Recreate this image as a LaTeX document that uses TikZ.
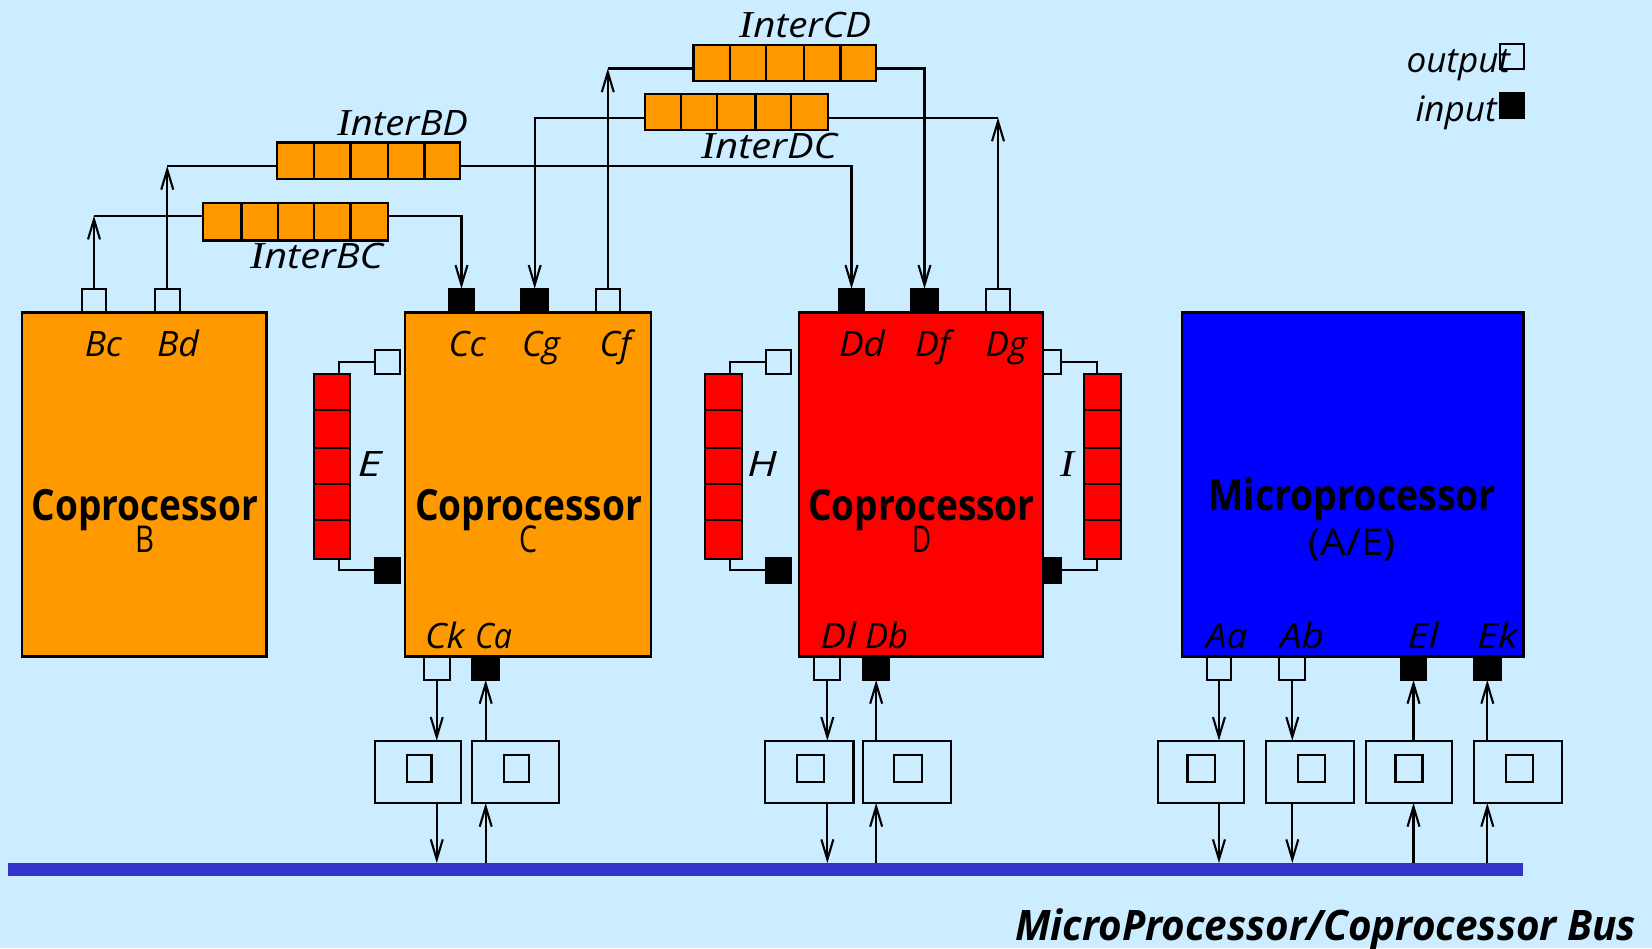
\documentclass[tikz,border=0pt]{standalone}
\usepackage{fontspec}
\usepackage{graphicx}
\setmainfont{Open Sans}
\newfontfamily\barfont{Liberation Serif}
\newcommand\barI{{\barfont\itshape\fontsize{19}{20}\selectfont I}}
\usetikzlibrary{arrows.meta}
\definecolor{bgblue}{HTML}{CCECFF}
\definecolor{orng}{HTML}{FF9900}
\definecolor{busblue}{HTML}{3333CC}
\tikzset{
  chip/.style={rectangle,draw=black,line width=1.1pt,inner sep=0pt,outer sep=0pt},
  outport/.style={chip,line width=1pt},
  inport/.style={chip,line width=1pt,fill=black},
  cellO/.style={chip,fill=orng},
  cellR/.style={chip,fill=red},
  wire/.style={line width=1.05pt,black},
  arrowed/.style={wire,-{Straight Barb[length=10pt,width=6pt,line width=1.05pt]}},
  txt/.style={inner sep=0pt,outer sep=0pt,anchor=base west},
  lbl/.style={txt,font=\fontsize{17.5}{20}\selectfont\itshape},
  hd/.style={txt,font=\fontsize{21.5}{24}\selectfont\bfseries},
  rm/.style={txt,font=\fontsize{18.5}{20}\selectfont},
  tit/.style={txt,font=\fontsize{21}{24}\selectfont\bfseries\itshape},
}
\newcommand\bx[6]{\node[#6,minimum width={(#4-#2)*0.5pt},minimum height={(#5-#3)*0.5pt}] (#1) at ({(#2+#4)/2},{(#3+#5)/2}) {};}
\newcommand\lab[6]{\pgfmathsetlengthmacro\labw{(#3-#2)*0.5}\node[#5] (#1) at (#2,#4) {\resizebox{\labw}{\height}{#6}};}
\newcommand\hq[9]{%
  \bx{#1a}{#2}{#8}{#3}{#9}{cellO}\bx{#1b}{#3}{#8}{#4}{#9}{cellO}\bx{#1c}{#4}{#8}{#5}{#9}{cellO}\bx{#1d}{#5}{#8}{#6}{#9}{cellO}\bx{#1e}{#6}{#8}{#7}{#9}{cellO}}
\newcommand\vq[3]{%
  \bx{#1a}{#2}{374}{#3}{410.3}{cellR}\bx{#1b}{#2}{410.3}{#3}{448.3}{cellR}\bx{#1c}{#2}{448.3}{#3}{484.3}{cellR}\bx{#1d}{#2}{484.3}{#3}{520.3}{cellR}\bx{#1e}{#2}{520.3}{#3}{558.7}{cellR}}
\newcommand\tbox[5]{\bx{#1}{#2}{740.7}{#3}{803}{chip}\bx{#1i}{#4}{755}{#5}{782}{chip}}
\begin{document}
\begin{tikzpicture}[x=0.5pt,y=-0.5pt]
\fill[bgblue] (0,0) rectangle (1652,948);
\useasboundingbox (0,0) rectangle (1652,948);
% main blocks
\bx{B}{22}{312.5}{266.5}{656.4}{chip,fill=orng}
\bx{C}{405}{312.5}{651}{656.4}{chip,fill=orng}
\bx{D}{799}{312.5}{1043}{656.4}{chip,fill=red}
\bx{M}{1181.6}{312.5}{1523.5}{656.4}{chip,fill=blue}
% top ports
\bx{Bc}{82}{288.7}{106}{312.5}{outport}
\bx{Bd}{154.5}{288.7}{180}{312.5}{outport}
\bx{Cc}{449}{288.7}{474}{312.5}{inport}
\bx{Cg}{521.4}{288.7}{548}{312.5}{inport}
\bx{Cf}{596}{288.7}{619.6}{312.5}{outport}
\bx{Dd}{839}{288.7}{864}{312.5}{inport}
\bx{Df}{911}{288.7}{938}{312.5}{inport}
\bx{Dg}{986}{288.7}{1010}{312.5}{outport}
% horizontal queues
\hq{qBC}{203}{241.5}{277.7}{314}{350.4}{388}{203}{240.5}
\hq{qBD}{277}{314}{350.4}{388}{424.5}{460}{142.5}{179}
\hq{qCD}{693.5}{730}{766}{804}{840.4}{876}{44.8}{81}
\hq{qDC}{645}{681}{717}{755.4}{791}{827.6}{94}{130}
% vertical queues
\vq{qE}{313.8}{350}
\vq{qH}{704.6}{742.3}
\vq{qI}{1084}{1121}
% side ports
\bx{Eo}{375}{350}{399.5}{374}{outport}
\bx{Ei}{375}{558}{399.5}{582.7}{inport}
\bx{Ho}{766}{350}{791.3}{374}{outport}
\bx{Hi}{766}{558}{791.3}{582.7}{inport}
\bx{Io}{1043.4}{350}{1061}{374}{outport}
\bx{Ii}{1043.4}{558}{1061}{582.7}{inport}
% bottom ports
\bx{Ck}{423.7}{656.4}{449.8}{680}{outport}
\bx{Ca}{472.2}{656.4}{499.2}{680}{inport}
\bx{Dl}{814.3}{656.4}{840.4}{680}{outport}
\bx{Db}{862.9}{656.4}{889.4}{680}{inport}
\bx{Aa}{1206.7}{656.4}{1231.2}{680}{outport}
\bx{Ab}{1279.4}{656.4}{1305.2}{680}{outport}
\bx{El}{1401}{656.4}{1426}{680}{inport}
\bx{Ek}{1473.6}{656.4}{1501}{680}{inport}
% interface boxes
\tbox{tCk}{374.7}{460.8}{407}{431.4}
\tbox{tCa}{472.2}{558.8}{504}{529}
\tbox{tDl}{765.3}{853.5}{797}{824}
\tbox{tDb}{862.9}{951}{894.3}{921.6}
\tbox{tAa}{1158}{1244}{1187.5}{1214.6}
\tbox{tAb}{1265.7}{1354.3}{1297.7}{1324.7}
\tbox{tEl}{1365.9}{1452}{1395.4}{1422.4}
\tbox{tEk}{1474}{1562}{1505.6}{1532.6}
% bus
\node[rectangle,fill=busblue,draw=none,inner sep=0pt,outer sep=0pt,minimum width={1515*0.5pt},minimum height={12.5*0.5pt}] (bus) at ({(8.4+1523.5)/2},869.3) {};
% legend
\bx{legO}{1500}{44.3}{1523.5}{68.7}{outport}
\bx{legI}{1500}{93}{1523.5}{118.3}{inport}
% wire attachment points on the queues
\coordinate (aBC) at ([yshift=3pt]qBCa.west);
\coordinate (bBC) at ([yshift=3pt]qBCe.east);
\coordinate (aBD) at ([yshift=-2.6pt]qBDa.west);
\coordinate (bBD) at ([yshift=-2.6pt]qBDe.east);
\coordinate (aCD) at ([yshift=-2.8pt]qCDa.west);
\coordinate (bCD) at ([yshift=-2.8pt]qCDe.east);
\coordinate (aDC) at ([yshift=-2.8pt]qDCa.west);
\coordinate (bDC) at ([yshift=-2.8pt]qDCe.east);
% queue links at the top
\coordinate (cBC) at (Bc.north |- aBC);
\coordinate (cBD) at (Bd.north |- aBD);
\coordinate (cCD) at (Cf.north |- aCD);
\coordinate (cDC) at (Dg.north |- bDC);
\draw[arrowed] (Bc.north) -- (cBC);
\draw[wire] (aBC) -- (cBC);
\draw[arrowed] (Bd.north) -- (cBD);
\draw[wire] (aBD) -- (cBD);
\draw[arrowed] (Cf.north) -- (cCD);
\draw[wire] (aCD) -- (cCD);
\draw[arrowed] (Dg.north) -- (cDC);
\draw[wire] (bDC) -- (cDC);
\draw[arrowed] (bBC) -| (Cc.north);
\draw[arrowed] (aDC) -| (Cg.north);
\draw[arrowed] (bBD) -| (Dd.north);
\draw[arrowed] (bCD) -| (Df.north);
% side links
\coordinate (eT) at (338.8,374);
\coordinate (eB) at (338.8,558.7);
\coordinate (hT) at (730,374);
\coordinate (hB) at (730,558.7);
\coordinate (iT) at (1097,374);
\coordinate (iB) at (1097,558.7);
\draw[wire] (eT) |- (Eo.west);
\draw[wire] (eB) |- (Ei.west);
\draw[wire] (hT) |- (Ho.west);
\draw[wire] (hB) |- (Hi.west);
\draw[wire] (iT) |- (Io.east);
\draw[wire] (iB) |- (Ii.east);
% port to interface to bus: outputs go down
\foreach \p/\t in {Ck/tCk,Dl/tDl,Aa/tAa,Ab/tAb}{
  \draw[arrowed] (\p.south) -- (\p.south |- \t.north);
  \draw[arrowed] (\p.south |- \t.south) -- (\p.south |- bus.north);
}
% inputs go up
\foreach \p/\t in {Ca/tCa,Db/tDb,El/tEl,Ek/tEk}{
  \draw[arrowed] (\p.south |- \t.north) -- (\p.south);
  \draw[arrowed] (\p.south |- bus.north) -- (\p.south |- \t.south);
}
% texts
\lab{tBD}{337}{468}{135}{lbl}{\barI nterBD}
\lab{tBC}{250}{383}{268}{lbl}{\barI nterBC}
\lab{tCD}{739.5}{871}{37}{lbl}{\barI nterCD}
\lab{tDC}{701}{837}{158}{lbl}{\barI nterDC}
\lab{lBc}{84.8}{122}{356}{lbl}{Bc}
\lab{lBd}{157}{199}{356}{lbl}{Bd}
\lab{lCc}{448.7}{485.7}{356}{lbl}{Cc}
\lab{lCg}{522}{560}{356}{lbl}{Cg}
\lab{lCf}{599.5}{631}{356}{lbl}{Cf}
\lab{lDd}{839}{885}{356}{lbl}{Dd}
\lab{lDf}{915}{950}{356}{lbl}{Df}
\lab{lDg}{985.5}{1027}{356}{lbl}{Dg}
\lab{lE}{357.7}{381.6}{476.7}{lbl}{E}
\lab{lH}{747.4}{777}{476.7}{lbl}{H}
\lab{lI}{1060}{1074}{476.7}{lbl}{\barI}
\lab{lCk}{425}{464.5}{648.3}{lbl}{Ck}
\lab{lCa}{475}{512}{648.3}{lbl}{Ca}
\lab{lDl}{820.4}{856}{648.3}{lbl}{Dl}
\lab{lDb}{865}{908}{648.3}{lbl}{Db}
\lab{lAa}{1205.8}{1247.4}{648.3}{lbl}{Aa}
\lab{lAb}{1279.8}{1324}{648.3}{lbl}{Ab}
\lab{lEl}{1407.5}{1438.7}{648.3}{lbl}{El}
\lab{lEk}{1477}{1517.7}{648.3}{lbl}{Ek}
\lab{hB}{31.6}{258}{520}{hd}{Coprocessor}
\lab{hC}{415}{642}{520}{hd}{Coprocessor}
\lab{hD}{808}{1034.7}{520}{hd}{Coprocessor}
\lab{hM}{1208.5}{1496}{510}{hd}{Microprocessor}
\lab{sB}{135}{154}{552}{rm}{B}
\lab{sC}{519}{537}{552}{rm}{C}
\lab{sD}{912}{931}{552}{rm}{D}
\lab{sM}{1308.6}{1396}{555}{rm}{(A/E)}
\lab{lOut}{1406.5}{1510}{72.7}{lbl}{output}
\lab{lIn}{1415.5}{1496.6}{121.7}{lbl}{input}
\lab{lBus}{1015}{1636}{940}{tit}{MicroProcessor/Coprocessor Bus}
\end{tikzpicture}
\end{document}
